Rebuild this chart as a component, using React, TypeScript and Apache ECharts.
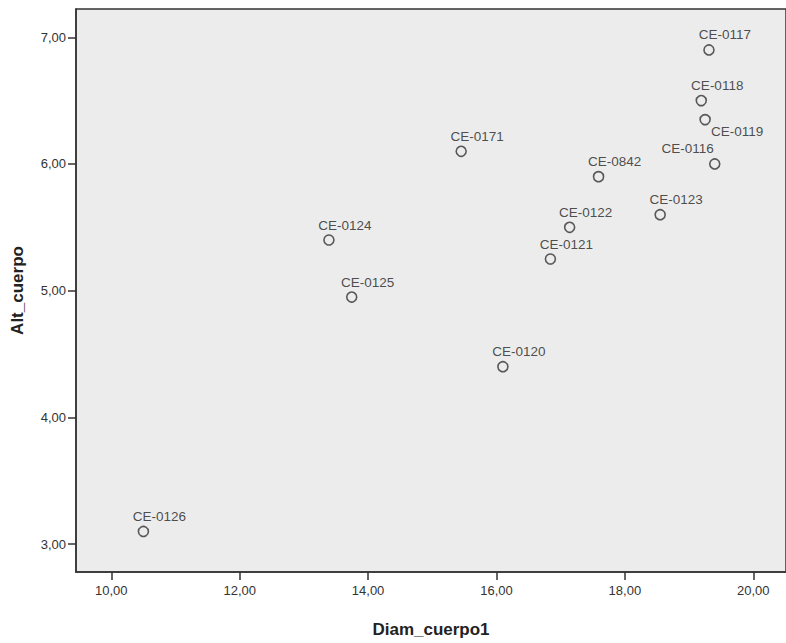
import React, { useEffect, useRef } from "react";
import * as echarts from "echarts";

const ids = ["CE-0126", "CE-0124", "CE-0125", "CE-0171", "CE-0120", "CE-0121", "CE-0122", "CE-0842", "CE-0123", "CE-0118", "CE-0119", "CE-0117", "CE-0116"];
const diamCuerpo = [10.5, 13.39, 13.745, 15.45, 16.1, 16.84, 17.14, 17.59, 18.55, 19.19, 19.25, 19.31, 19.4];
const altCuerpo = [3.1, 5.4, 4.95, 6.1, 4.4, 5.25, 5.5, 5.9, 5.6, 6.5, 6.35, 6.9, 6.0];
const xTicks = [10, 12, 14, 16, 18, 20];
const yTicks = [3, 4, 5, 6, 7];

const defaultLabelOffset = [16, -15];
const labelOffsetExceptions: Record<string, number[]> = {
  "CE-0119": [32, 12],
  "CE-0116": [-27, -15],
};

const fmt = (v: number) => v.toFixed(2).replace(".", ",");
const FONT = "'Liberation Sans', Arial, sans-serif";

export default function App() {
  const ref = useRef<HTMLDivElement>(null);
  useEffect(() => {
    if (!ref.current) return;
    const chart = echarts.init(ref.current, null, { renderer: "svg" });
    const data = ids.map((id, i) => ({
      value: [diamCuerpo[i], altCuerpo[i]],
      name: id,
      label: { offset: labelOffsetExceptions[id] || defaultLabelOffset },
    }));
    chart.setOption({
      animation: false,
      backgroundColor: "#ffffff",
      grid: {
        left: 76,
        top: 9,
        right: -3,
        bottom: 63,
        show: true,
        backgroundColor: "#ececec",
        borderColor: "#333333",
        borderWidth: 1.5,
      },
      xAxis: {
        type: "value",
        min: 9.45,
        max: 20.51,
        name: "Diam_cuerpo1",
        nameLocation: "middle",
        nameGap: 49,
        nameTextStyle: { fontFamily: FONT, fontWeight: "bold", fontSize: 17, color: "#222" },
        axisLine: { show: true, lineStyle: { color: "#333", width: 1.5 } },
        axisTick: { show: true, length: 8, customValues: xTicks, lineStyle: { color: "#333", width: 1.5 } },
        axisLabel: {
          customValues: xTicks,
          formatter: (v: number) => fmt(v),
          margin: 12,
          fontFamily: FONT,
          fontSize: 13,
          color: "#333",
        },
        splitLine: { show: false },
      },
      yAxis: {
        type: "value",
        min: 2.78,
        max: 7.223,
        name: "Alt_cuerpo",
        nameLocation: "middle",
        nameGap: 50,
        nameRotate: 90,
        nameTextStyle: { fontFamily: FONT, fontWeight: "bold", fontSize: 17, color: "#222" },
        axisLine: { show: true, lineStyle: { color: "#333", width: 1.5 } },
        axisTick: { show: true, length: 8, customValues: yTicks, lineStyle: { color: "#333", width: 1.5 } },
        axisLabel: {
          customValues: yTicks,
          formatter: (v: number) => fmt(v),
          margin: 10,
          fontFamily: FONT,
          fontSize: 13,
          color: "#333",
        },
        splitLine: { show: false },
      },
      series: [
        {
          type: "scatter",
          symbol: "circle",
          symbolSize: 10,
          itemStyle: { color: "rgba(0,0,0,0)", borderColor: "#333", borderWidth: 1.6 },
          label: {
            show: true,
            position: "inside",
            formatter: (p: any) => p.name,
            fontFamily: FONT,
            fontSize: 13.5,
            color: "#222",
          },
          emphasis: { disabled: true },
          data,
        },
      ],
    });
    return () => chart.dispose();
  }, []);
  return (
    <div
      ref={ref}
      style={{ position: "fixed", left: 0, top: 0, width: 786, height: 643 }}
    />
  );
}
